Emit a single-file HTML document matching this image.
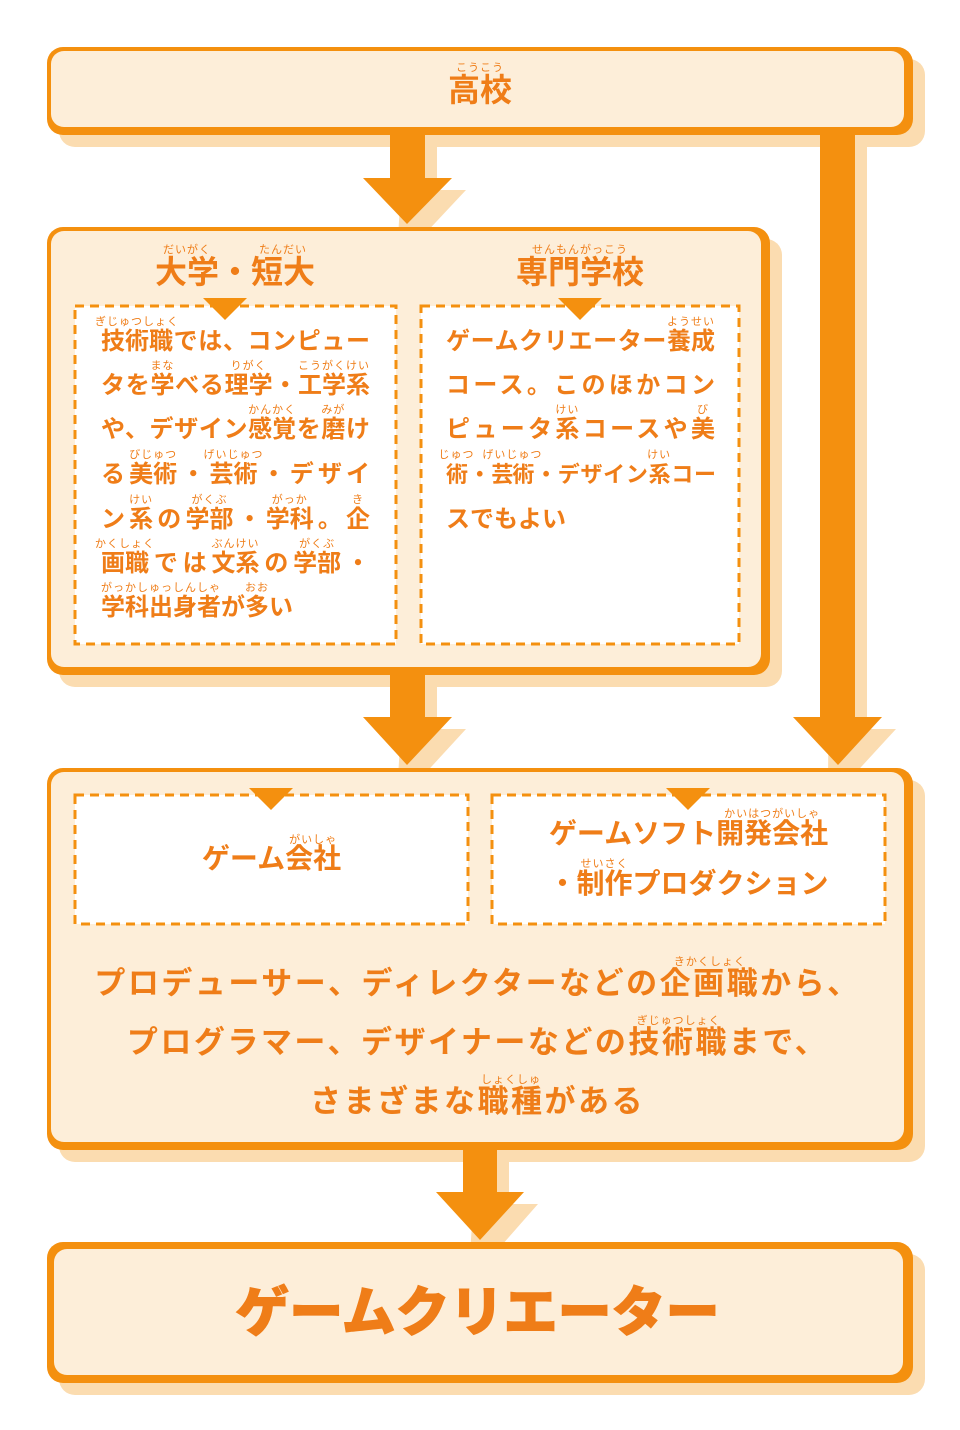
<!DOCTYPE html>
<html><head><meta charset="utf-8"><style>
*{margin:0;padding:0;box-sizing:border-box}
body{width:960px;height:1430px;background:#fff;position:relative;overflow:hidden;font-family:"Liberation Sans","Noto Sans CJK JP",sans-serif;font-weight:bold;color:#ef7d18}
.a{position:absolute}
.r{position:relative;display:inline-block}
.r i{position:absolute;left:-30px;right:-30px;top:-0.62em;font-style:normal;font-size:11px;line-height:11px;font-weight:normal;text-align:center;text-align-last:center;letter-spacing:1px;white-space:nowrap}
.ln{position:absolute;height:30px;line-height:30px;font-size:24px;white-space:nowrap;text-align:justify;text-align-last:justify}
.ln .r i{top:-10px}
.c{text-align:center;white-space:nowrap}
</style></head><body>
<svg class="a" style="left:0;top:0" width="960" height="1430">
<g fill="#fbdcb0">
<rect x="59" y="59" width="866" height="88" rx="16"/>
<rect x="59" y="239" width="723" height="448" rx="16"/>
<rect x="59" y="780" width="866" height="382" rx="16"/>
<rect x="59" y="1254" width="866" height="141" rx="16"/>
<polygon points="404,135 437,135 437,190 466,190 421,238 398,238"/>
<polygon points="404,675 437,675 437,729 466,729 421,778 398,778"/>
<polygon points="834,135 867,135 867,729 896,729 851,778 828,778"/>
<polygon points="477,1150 509,1150 509,1204 538,1204 494,1254 470,1254"/>
</g>
<g fill="#f4900f">
<rect x="47" y="47" width="866" height="88" rx="16"/>
<rect x="47" y="227" width="723" height="448" rx="16"/>
<rect x="47" y="768" width="866" height="382" rx="16"/>
<rect x="47" y="1242" width="866" height="141" rx="16"/>
</g>
<g fill="#fdeed9">
<rect x="51" y="51" width="853" height="76" rx="13"/>
<rect x="51" y="231" width="710" height="436" rx="13"/>
<rect x="51" y="772" width="853" height="370" rx="13"/>
<rect x="54" y="1249" width="849" height="126" rx="13"/>
</g>
<g fill="#f4900f">
<polygon points="390,135 425,135 425,178 452,178 407,224 363,178 390,178"/>
<polygon points="390,675 425,675 425,717 452,717 407,765 363,717 390,717"/>
<polygon points="820,135 855,135 855,717 882,717 838,765 793,717 820,717"/>
<polygon points="463,1150 497,1150 497,1192 524,1192 480,1240 436,1192 463,1192"/>
</g>
<g fill="#fff" stroke="#f4900f" stroke-width="3" stroke-dasharray="9 6">
<rect x="75" y="306" width="321" height="338"/>
<rect x="421" y="306" width="318" height="338"/>
<rect x="75" y="795" width="393" height="129"/>
<rect x="492" y="795" width="393" height="129"/>
</g>
<g fill="#f4900f">
<polygon points="203,298 247,298 225,320"/>
<polygon points="558,298 602,298 580,320"/>
<polygon points="249,788 293,788 271,810"/>
<polygon points="666,788 710,788 688,810"/>
</g>
</svg>

<div class="a c" style="left:380px;top:70px;width:200px;font-size:32px;line-height:40px"><span class="r">高校<i>こうこう</i></span></div>
<div class="a c" style="left:95px;top:252px;width:280px;font-size:32px;line-height:40px"><span class="r">大学<i>だいがく</i></span>・<span class="r">短大<i>たんだい</i></span></div>
<div class="a c" style="left:480px;top:252px;width:200px;font-size:32px;line-height:40px"><span class="r">専門学校<i>せんもんがっこう</i></span></div>

<div class="ln" style="left:101px;top:327px;width:269px"><span class="r">技術職<i>ぎじゅつしょく</i></span>では、コンピュー</div>
<div class="ln" style="left:101px;top:371px;width:269px">タを<span class="r">学<i>まな</i></span>べる<span class="r">理学<i>りがく</i></span>・<span class="r">工学系<i>こうがくけい</i></span></div>
<div class="ln" style="left:101px;top:415px;width:269px">や、デザイン<span class="r">感覚<i>かんかく</i></span>を<span class="r">磨<i>みが</i></span>け</div>
<div class="ln" style="left:101px;top:460px;width:269px">る<span class="r">美術<i>びじゅつ</i></span>・<span class="r">芸術<i>げいじゅつ</i></span>・デザイ</div>
<div class="ln" style="left:101px;top:505px;width:269px">ン<span class="r">系<i>けい</i></span>の<span class="r">学部<i>がくぶ</i></span>・<span class="r">学科<i>がっか</i></span>。<span class="r">企<i>き</i></span></div>
<div class="ln" style="left:101px;top:549px;width:269px"><span class="r">画職<i>かくしょく</i></span>では<span class="r">文系<i>ぶんけい</i></span>の<span class="r">学部<i>がくぶ</i></span>・</div>
<div class="ln" style="left:101px;top:593px;width:200px;text-align-last:left"><span class="r">学科出身者<i>がっかしゅっしんしゃ</i></span>が<span class="r">多<i>おお</i></span>い</div>

<div class="ln" style="left:446px;top:327px;width:269px">ゲームクリエーター<span class="r">養成<i>ようせい</i></span></div>
<div class="ln" style="left:446px;top:371px;width:269px">コース。このほかコン</div>
<div class="ln" style="left:446px;top:415px;width:269px">ピュータ<span class="r">系<i>けい</i></span>コースや<span class="r">美<i>び</i></span></div>
<div class="ln" style="left:446px;top:460px;width:269px;font-size:22px;letter-spacing:-1px"><span class="r">術<i>じゅつ</i></span>・<span class="r">芸術<i>げいじゅつ</i></span>・デザイン<span class="r">系<i>けい</i></span>コー</div>
<div class="ln" style="left:446px;top:505px;width:150px;text-align-last:left">スでもよい</div>

<div class="a c" style="left:75px;top:842px;width:393px;font-size:28px;line-height:34px">ゲーム<span class="r">会社<i>がいしゃ</i></span></div>
<div class="a c" style="left:492px;top:816px;width:393px;font-size:28px;line-height:36px">ゲームソフト<span class="r">開発会社<i>かいはつがいしゃ</i></span></div>
<div class="a c" style="left:492px;top:866px;width:393px;font-size:28px;line-height:36px">・<span class="r">制作<i>せいさく</i></span>プロダクション</div>

<div class="a c" style="left:51px;top:964px;width:853px;font-size:31px;line-height:40px;letter-spacing:2.5px">プロデューサー、ディレクターなどの<span class="r">企画職<i>きかくしょく</i></span>から、</div>
<div class="a c" style="left:51px;top:1023px;width:853px;font-size:31px;line-height:40px;letter-spacing:2.5px">プログラマー、デザイナーなどの<span class="r">技術職<i>ぎじゅつしょく</i></span>まで、</div>
<div class="a c" style="left:51px;top:1082px;width:853px;font-size:31px;line-height:40px;letter-spacing:2.5px">さまざまな<span class="r">職種<i>しょくしゅ</i></span>がある</div>

<div class="a c" style="left:51px;top:1280px;width:853px;font-size:54px;line-height:66px;font-weight:900;-webkit-text-stroke:1px #ef7d18">ゲームクリエーター</div>
</body></html>
